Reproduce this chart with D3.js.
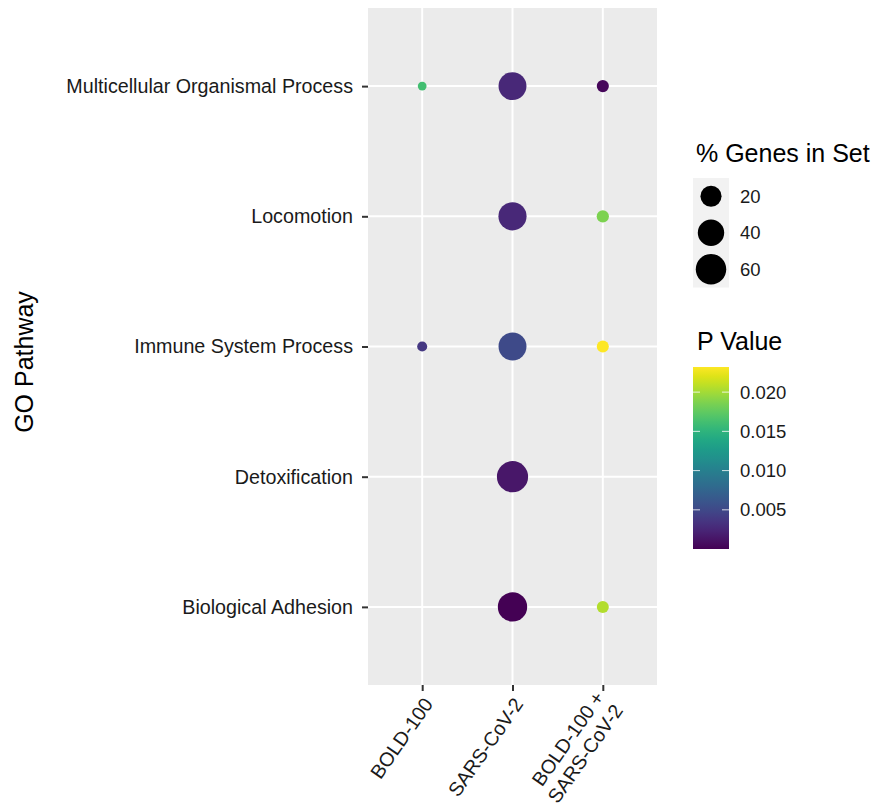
<!DOCTYPE html>
<html lang="en">
<head>
  <meta charset="UTF-8" />
  <title>GO Pathway dot plot</title>
  <style>
    body { margin: 0; background: #fff; }
    svg { display: block; font-family: "Liberation Sans", Arial, sans-serif; }
  </style>
  <script src="https://cdn.jsdelivr.net/npm/d3@7"></script>
</head>
<body>
<script>
  const conditions = ["BOLD-100", "SARS-CoV-2", "BOLD-100 +\nSARS-CoV-2"];
  const pathways = ["Multicellular Organismal Process", "Locomotion", "Immune System Process", "Detoxification", "Biological Adhesion"];

  // one row per point: condition, pathway, % genes in set, p value
  const pointCondition = ["BOLD-100", "BOLD-100",
    "SARS-CoV-2", "SARS-CoV-2", "SARS-CoV-2", "SARS-CoV-2", "SARS-CoV-2",
    "BOLD-100 +\nSARS-CoV-2", "BOLD-100 +\nSARS-CoV-2", "BOLD-100 +\nSARS-CoV-2", "BOLD-100 +\nSARS-CoV-2"];
  const pointPathway = ["Multicellular Organismal Process", "Immune System Process",
    "Multicellular Organismal Process", "Locomotion", "Immune System Process", "Detoxification", "Biological Adhesion",
    "Multicellular Organismal Process", "Locomotion", "Immune System Process", "Biological Adhesion"];
  const pointGenes = [1.0, 1.2, 47, 48, 47, 64, 54, 2.4, 2.5, 2.3, 2.3];
  const pointP = [0.0162, 0.0038, 0.0026, 0.0026, 0.0052, 0.0014, 0.00001, 0.0004, 0.0186, 0.0232, 0.0205];

  const sizeBreaks = [20, 40, 60];
  const pTicks = [0.005, 0.010, 0.015, 0.020];

  const W = 877, H = 812;
  const svg = d3.select("body").append("svg").attr("width", W).attr("height", H);

  const panel = { left: 368, right: 657, top: 8, bottom: 685 };
  const tickFont = 19.7, legFont = 18.5, titleFont = 25;

  const x = d3.scalePoint().domain(conditions).range([panel.left, panel.right]).padding(0.6);
  const y = d3.scalePoint().domain(pathways).range([panel.top, panel.bottom]).padding(0.6);

  const gMin = d3.min(pointGenes), gMax = d3.max(pointGenes);
  const rMin = 4.4, rMax = 15.6;
  const areaScale = d3.scaleLinear().domain([gMin, gMax]).range([0, 1]);
  const r = v => rMin + (rMax - rMin) * Math.sqrt(Math.max(0, areaScale(v)));

  const pMin = d3.min(pointP), pMax = d3.max(pointP);
  const color = d3.scaleSequential(d3.interpolateViridis).domain([pMin, pMax]);

  const data = pointGenes.map((g, i) => ({
    cond: pointCondition[i], path: pointPathway[i], genes: g, p: pointP[i]
  }));

  // panel
  svg.append("rect")
    .attr("x", panel.left).attr("y", panel.top)
    .attr("width", panel.right - panel.left).attr("height", panel.bottom - panel.top)
    .attr("fill", "#ebebeb");

  const grid = svg.append("g").attr("stroke", "#fff").attr("stroke-width", 2);
  grid.selectAll(".gx").data(conditions).join("line")
    .attr("x1", d => x(d)).attr("x2", d => x(d))
    .attr("y1", panel.top).attr("y2", panel.bottom);
  grid.selectAll(".gy").data(pathways).join("line")
    .attr("x1", panel.left).attr("x2", panel.right)
    .attr("y1", d => y(d)).attr("y2", d => y(d));

  svg.append("g").selectAll("circle").data(data).join("circle")
    .attr("cx", d => x(d.cond)).attr("cy", d => y(d.path))
    .attr("r", d => r(d.genes))
    .attr("fill", d => color(d.p));

  // y axis
  const yAxis = svg.append("g").attr("transform", `translate(${panel.left},0)`)
    .call(d3.axisLeft(y).tickSize(6).tickPadding(9));
  yAxis.select(".domain").remove();
  yAxis.selectAll(".tick line").attr("stroke", "#333").attr("stroke-width", 2);
  yAxis.selectAll(".tick text").attr("font-size", tickFont).attr("fill", "#1a1a1a")
    .attr("font-family", "Liberation Sans, Arial, sans-serif");

  // x axis
  const xAxis = svg.append("g").attr("transform", `translate(0,${panel.bottom})`)
    .call(d3.axisBottom(x).tickSize(6).tickFormat(""));
  xAxis.select(".domain").remove();
  xAxis.selectAll(".tick line").attr("stroke", "#333").attr("stroke-width", 2);

  const ang = -55, rad = ang * Math.PI / 180;
  const down = [-Math.sin(rad), Math.cos(rad)];
  const lineH = tickFont * 1.15;
  const xLab = svg.append("g");
  conditions.forEach(c => {
    const lines = c.split("\n");
    lines.forEach((ln, i) => {
      const off = (i - (lines.length - 1) / 2) * lineH;
      const ax = x(c) + 6 + off * down[0];
      const ay = panel.bottom + 15 + off * down[1];
      xLab.append("text")
        .attr("transform", `translate(${ax},${ay}) rotate(${ang})`)
        .attr("text-anchor", "end").attr("dy", "0.35em")
        .attr("font-size", tickFont).attr("fill", "#1a1a1a").text(ln);
    });
  });

  svg.append("text")
    .attr("transform", `translate(33,362) rotate(-90)`)
    .attr("text-anchor", "middle").attr("font-size", titleFont).attr("fill", "#000")
    .text("GO Pathway");

  // size legend
  const lx = 693;
  svg.append("text").attr("x", lx + 3).attr("y", 162).attr("font-size", titleFont).attr("fill", "#000")
    .text("% Genes in Set");
  const keyH = 36.5;
  const sLeg = svg.append("g").attr("transform", `translate(${lx},178)`);
  sLeg.append("rect").attr("width", 36).attr("height", keyH * sizeBreaks.length).attr("fill", "#f2f2f2");
  sizeBreaks.forEach((b, i) => {
    sLeg.append("circle").attr("cx", 18).attr("cy", keyH * i + keyH / 2).attr("r", r(b)).attr("fill", "#000");
    sLeg.append("text").attr("x", 47).attr("y", keyH * i + keyH / 2).attr("dy", "0.35em")
      .attr("font-size", legFont).attr("fill", "#1a1a1a").text(b);
  });

  // colour bar
  svg.append("text").attr("x", lx + 4).attr("y", 350).attr("font-size", titleFont).attr("fill", "#000")
    .text("P Value");
  const barTop = 367, barBot = 549, barW = 36;
  const cy = d3.scaleLinear().domain([pMin, pMax]).range([barBot, barTop]);
  const defs = svg.append("defs");
  const grad = defs.append("linearGradient").attr("id", "vir")
    .attr("x1", 0).attr("y1", 1).attr("x2", 0).attr("y2", 0);
  d3.range(0, 1.0001, 0.05).forEach(t => {
    grad.append("stop").attr("offset", t).attr("stop-color", d3.interpolateViridis(t));
  });
  svg.append("rect").attr("x", lx).attr("y", barTop).attr("width", barW).attr("height", barBot - barTop)
    .attr("fill", "url(#vir)");
  const cTicks = svg.append("g");
  pTicks.forEach(t => {
    const yy = cy(t);
    cTicks.append("line").attr("x1", lx).attr("x2", lx + 7).attr("y1", yy).attr("y2", yy)
      .attr("stroke", "#fff").attr("stroke-opacity", 0.8).attr("stroke-width", 1);
    cTicks.append("line").attr("x1", lx + barW - 7).attr("x2", lx + barW).attr("y1", yy).attr("y2", yy)
      .attr("stroke", "#fff").attr("stroke-opacity", 0.8).attr("stroke-width", 1);
    cTicks.append("text").attr("x", lx + barW + 11).attr("y", yy).attr("dy", "0.35em")
      .attr("font-size", legFont).attr("fill", "#1a1a1a").text(d3.format(".3f")(t));
  });
</script>
</body>
</html>
